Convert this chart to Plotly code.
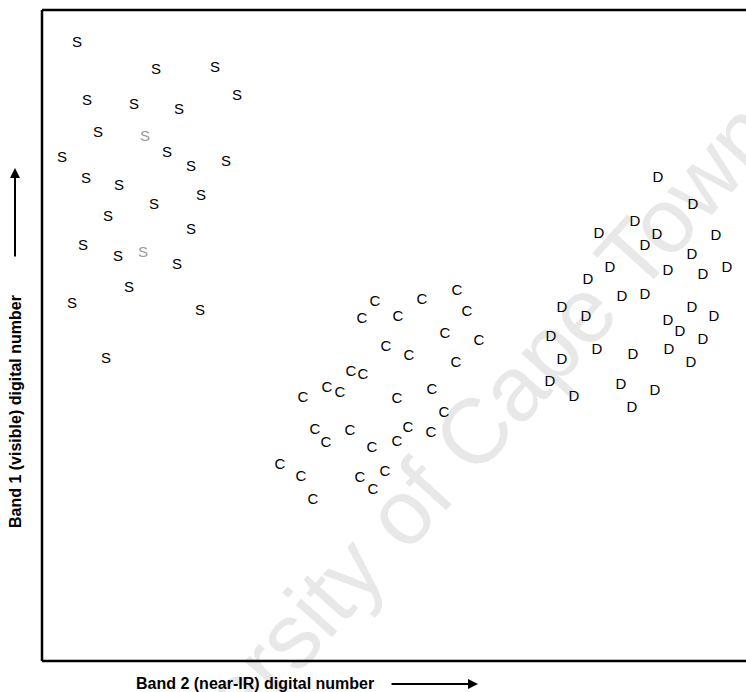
import plotly.graph_objects as go

# Band 2 (near-IR) DN and Band 1 (visible) DN for each class
s_x = [35, 114, 173, 195, 45, 92, 137, 56, 20, 125, 149, 184, 44, 77, 159, 112, 66, 149, 41, 76, 135, 87, 30, 158, 64]
s_y = [618, 591, 593, 565, 560, 556, 551, 528, 503, 508, 494, 499, 482, 475, 465, 456, 444, 431, 415, 404, 396, 373, 357, 350, 302]
s_faint_x = [103, 101]
s_faint_y = [524, 408]

c_x = [333, 320, 380, 356, 415, 425, 403, 437, 344, 367, 414, 309, 321, 261, 285, 298, 355, 390, 402,
       273, 284, 308, 330, 366, 355, 389, 238, 259, 271, 318, 331, 343]
c_y = [359, 342, 361, 344, 370, 349, 327, 320, 314, 305, 298, 289, 286, 263, 273, 268, 262, 271, 248,
       231, 218, 230, 213, 233, 219, 228, 196, 184, 161, 183, 171, 189]

d_x = [616, 651, 593, 557, 615, 603, 674, 650, 568, 546, 626, 661, 685, 580, 603, 520, 544, 650, 672,
       626, 638, 661, 509, 555, 591, 627, 649, 520, 508, 532, 579, 613, 590]
d_y = [483, 456, 439, 427, 426, 415, 425, 406, 393, 381, 390, 386, 393, 364, 366, 353, 344, 353, 344,
       340, 329, 321, 324, 311, 306, 311, 298, 301, 279, 264, 276, 270, 253]

x_range = [0, 704]
y_range = [0, 651]

FONT = "Liberation Sans, Arial, sans-serif"


def letters(x, y, ch, color="black"):
    return go.Scatter(x=x, y=y, mode="text", text=[ch] * len(x),
                      textposition="middle center",
                      textfont=dict(family=FONT, size=15, color=color),
                      hoverinfo="skip", showlegend=False)


fig = go.Figure()
fig.add_trace(letters(s_x, s_y, "S"))
fig.add_trace(letters(s_faint_x, s_faint_y, "S", "#9a9a9a"))
fig.add_trace(letters(c_x, c_y, "C"))
fig.add_trace(letters(d_x, d_y, "D"))

# watermark
cx, cy = (420 - 42) / 704, (661 - 478) / 651
fig.add_shape(type="rect", xref="paper", yref="paper", x0=cx - 0.01, x1=cx + 0.01, y0=cy - 0.01, y1=cy + 0.01,
              line=dict(width=0), fillcolor="rgba(0,0,0,0)", layer="below",
              label=dict(text="University of Cape Town", textangle=-48,
                         textposition="middle center",
                         font=dict(family=FONT, size=92, color="#e8e8e8")))

# frame: left, top, bottom (no right edge)
for (x0, y0, x1, y1) in [(0, 0, 0, 1), (0, 1, 1, 1), (0, 0, 1, 0)]:
    fig.add_shape(type="line", xref="paper", yref="paper", x0=x0, y0=y0, x1=x1, y1=y1,
                  line=dict(color="black", width=2.5), layer="above")

# axis titles with arrows
fig.add_annotation(xref="paper", yref="paper", x=(255 - 42) / 704, y=(661 - 683) / 651,
                   text="<b>Band 2 (near-IR) digital number</b>", showarrow=False,
                   font=dict(family=FONT, size=16, color="black"), xanchor="center", yanchor="middle")
fig.add_annotation(xref="paper", yref="paper", x=(478 - 42) / 704, y=(661 - 684) / 651,
                   ax=-88, ay=0, text="", showarrow=True, arrowhead=2, arrowsize=1,
                   arrowwidth=2, arrowcolor="black")
fig.add_annotation(xref="paper", yref="paper", x=(15 - 42) / 704, y=(661 - 412) / 651,
                   text="<b>Band 1 (visible) digital number</b>", showarrow=False, textangle=-90,
                   font=dict(family=FONT, size=16, color="black"), xanchor="center", yanchor="middle")
fig.add_annotation(xref="paper", yref="paper", x=(15 - 42) / 704, y=(661 - 168) / 651,
                   ax=0, ay=90, text="", showarrow=True, arrowhead=2, arrowsize=1,
                   arrowwidth=2, arrowcolor="black")

fig.update_xaxes(range=x_range, showgrid=False, zeroline=False, showticklabels=False, ticks="",
                 showline=False)
fig.update_yaxes(range=y_range, showgrid=False, zeroline=False, showticklabels=False, ticks="",
                 showline=False)

fig.update_layout(width=746, height=692, margin=dict(l=42, r=0, t=10, b=31),
                  plot_bgcolor="white", paper_bgcolor="white", showlegend=False)

fig.write_html("out.html")
